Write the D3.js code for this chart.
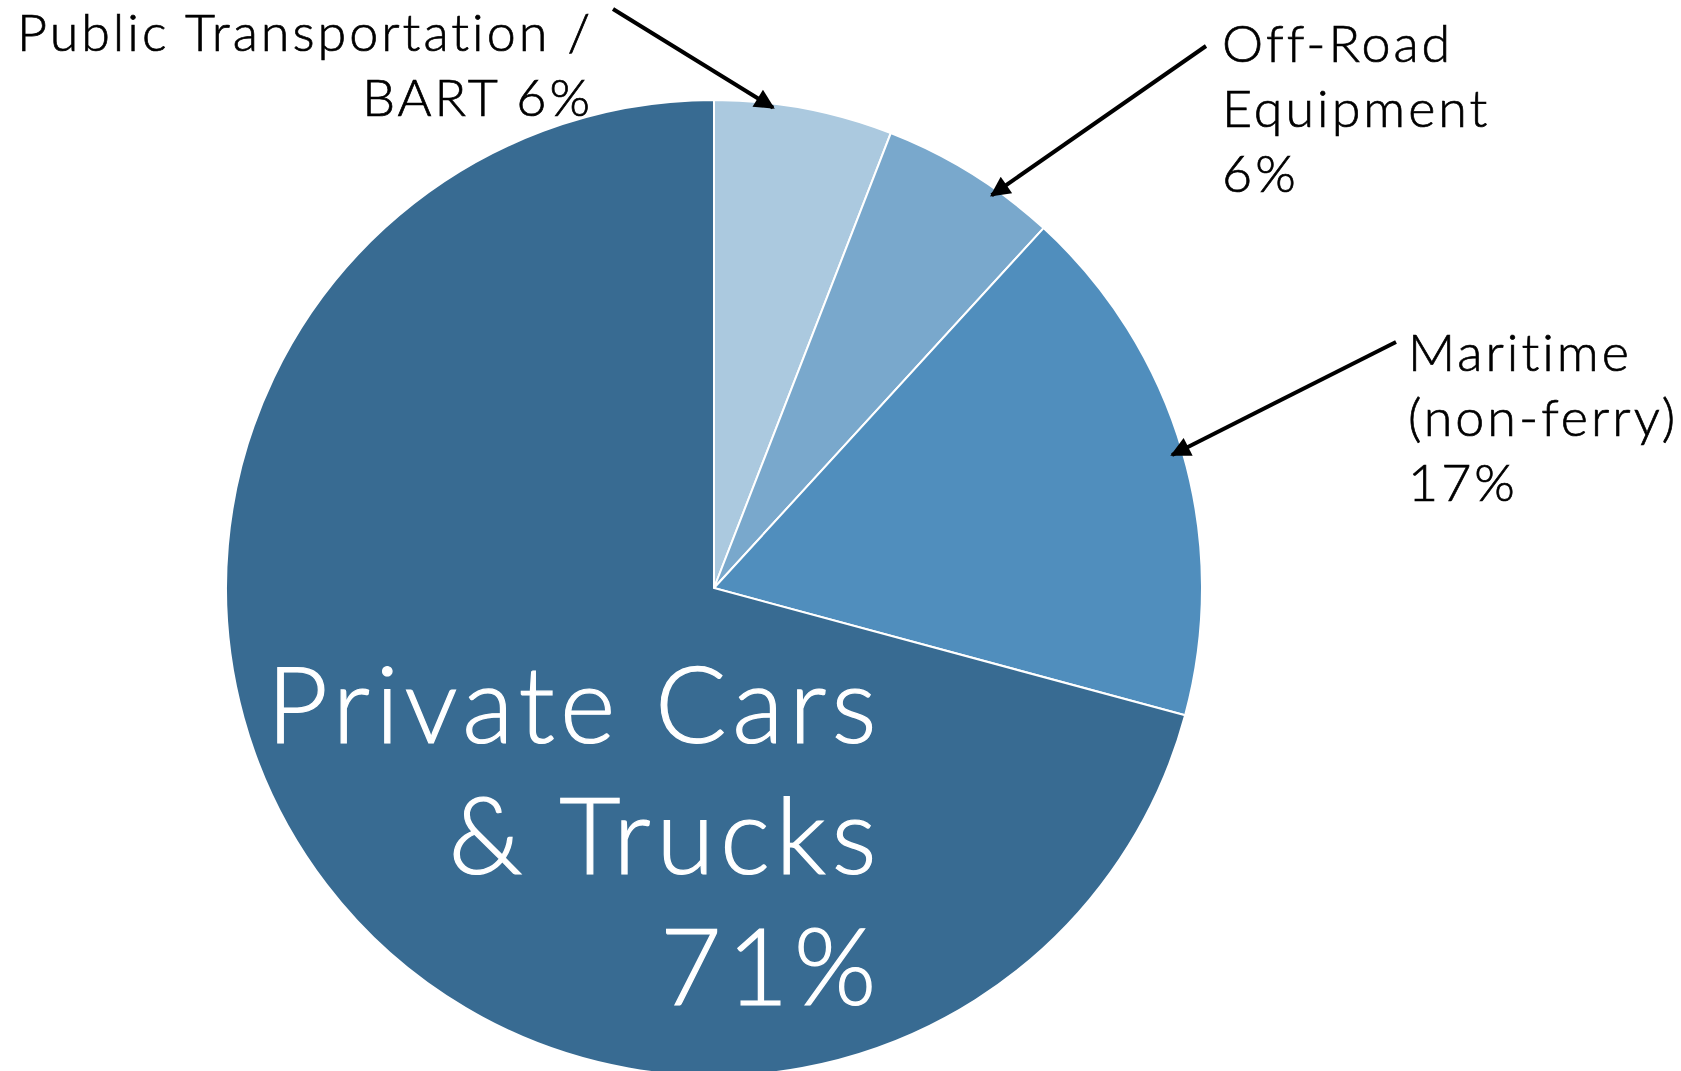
<!DOCTYPE html>
<html>
<head>
<meta charset="utf-8">
<script src="https://cdn.jsdelivr.net/npm/d3@7"></script>
<style>
  body { margin: 0; background: #fff; }
  text { font-family: "Lato", "DejaVu Sans", sans-serif; font-weight: 300; font-variant-ligatures: none; }
</style>
</head>
<body>
<svg id="chart" width="1681" height="1071"></svg>
<script>
// data (clockwise from 12 o'clock)
const categories = ["Public Transportation / BART", "Off-Road Equipment", "Maritime (non-ferry)", "Private Cars & Trucks"];
const values = [5.9, 5.9, 17.4, 70.8];
const pctLabels = ["6%", "6%", "17%", "71%"];
const colors = ["#abc9df", "#79a8cc", "#508ebd", "#386b92"];
const labelLines = [
  ["Public Transportation /", "BART 6%"],
  ["Off-Road", "Equipment", "6%"],
  ["Maritime", "(non-ferry)", "17%"],
  ["Private Cars", "& Trucks", "71%"]
];

const width = 1681, height = 1071;
const cx = 714, cy = 588, radius = 488;

const svg = d3.select("#chart");

const pie = d3.pie().sort(null).value(d => d);
const arc = d3.arc().innerRadius(0).outerRadius(radius);
const arcs = pie(values);

const g = svg.append("g").attr("transform", `translate(${cx},${cy})`);

g.selectAll("path.slice")
  .data(arcs)
  .enter()
  .append("path")
  .attr("class", "slice")
  .attr("d", arc)
  .attr("fill", (d, i) => colors[i])
  .attr("stroke", "#fff")
  .attr("stroke-width", 2);

// big label inside the biggest slice
const big = svg.append("text")
  .attr("fill", "#fff")
  .attr("stroke", "#fff")
  .attr("stroke-width", 1.2)
  .attr("text-anchor", "end")
  .style("font-size", "106px")
  .style("letter-spacing", "5.5px");
labelLines[3].forEach((t, i) => {
  big.append("tspan").attr("x", 882).attr("y", 743 + i * 131).text(t);
});

// outside labels with arrows
const defs = svg.append("defs");
defs.append("marker")
  .attr("id", "head")
  .attr("markerUnits", "userSpaceOnUse")
  .attr("viewBox", "0 0 10 10")
  .attr("refX", 9).attr("refY", 5)
  .attr("markerWidth", 24).attr("markerHeight", 20)
  .attr("orient", "auto")
  .append("path")
  .attr("d", "M0,0 L10,5 L0,10 Z")
  .attr("fill", "#000");

// layout for the call-outs: text anchor, first baseline, arrow tail, where along the slice the arrow points
const callouts = [
  { x: 593, y: 51, anchor: "end", tail: [613, 9], frac: 0.33, r: 484 },
  { x: 1222, y: 62, anchor: "start", tail: [1206, 46], frac: 0.66, r: 481 },
  { x: 1408, y: 371, anchor: "start", tail: [1396, 342], frac: 0.5, r: 477 }
];

callouts.forEach((c, i) => {
  const t = svg.append("text")
    .attr("fill", "#000")
    .attr("stroke", "#000")
    .attr("stroke-width", 0.7)
    .attr("text-anchor", c.anchor)
    .style("font-size", "52px")
    .style("letter-spacing", "3px");
  labelLines[i].forEach((line, j) => {
    t.append("tspan").attr("x", c.x).attr("y", c.y + j * 65).text(line);
  });
  const a = arcs[i];
  const ang = a.startAngle + (a.endAngle - a.startAngle) * c.frac;
  const tip = [cx + c.r * Math.sin(ang), cy - c.r * Math.cos(ang)];
  svg.append("line")
    .attr("x1", c.tail[0]).attr("y1", c.tail[1])
    .attr("x2", tip[0]).attr("y2", tip[1])
    .attr("stroke", "#000")
    .attr("stroke-width", 4)
    .attr("marker-end", "url(#head)");
});
</script>
</body>
</html>
